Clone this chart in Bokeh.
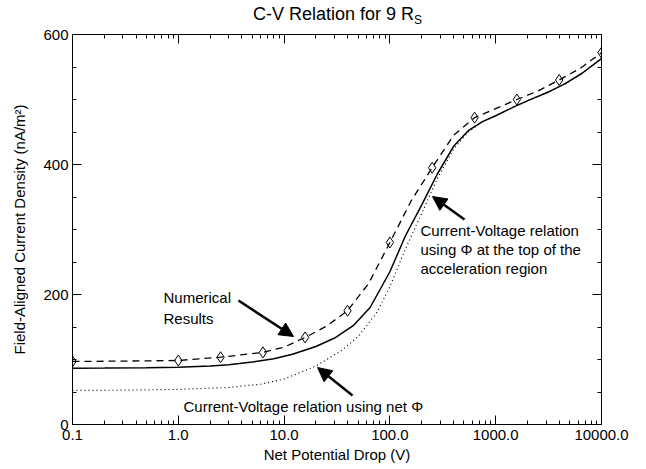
from bokeh.plotting import figure
from bokeh.models import (Range1d, FixedTicker, PrintfTickFormatter, LogAxis, LinearAxis,
                          Label, Arrow, NormalHead, CustomJSTickFormatter, Div)
from bokeh.layouts import column
from bokeh.embed import file_html
from bokeh.resources import INLINE

# ---------------- data ----------------
solid_x = [0.1, 0.2, 0.5, 1, 2, 3, 5, 8, 12, 20, 30, 45, 65, 100, 140, 200, 280, 400,
           550, 750, 1000, 1500, 2200, 3200, 4500, 6500, 10000]
solid_y = [86.5, 86.8, 87.3, 88, 90, 92, 96, 101, 108, 120, 133, 152, 180, 235, 290, 338,
           385, 428, 452, 466, 475, 489, 501, 512, 524, 540, 563]

dash_x = [0.1, 0.3, 1, 2.51, 6.31, 10, 15.8, 25, 39.8, 63, 100, 160, 251, 400, 631, 1000,
          1585, 2500, 3981, 6300, 10000]
dash_y = [97, 97.5, 98.5, 103.5, 111, 119, 134, 151, 175, 217, 280, 345, 395, 445, 472, 486,
          500, 513, 530, 548, 572]

marker_x = [0.1, 1, 2.51, 6.31, 15.8, 39.8, 100, 251, 631, 1585, 3981, 10000]
marker_y = [97, 98.5, 103.5, 111, 134, 175, 280, 395, 472, 500, 530, 572]

dot_x = [0.1, 0.3, 1, 3, 6, 10, 20, 35, 50, 75, 100, 140, 200, 280, 400, 550, 750, 1000,
         1500, 2200, 3200, 4500, 6500, 10000]
dot_y = [52.3, 52.8, 54, 57, 62, 70, 90, 114, 135, 172, 212, 270, 325, 378, 424, 450, 466,
         475, 489, 501, 512, 524, 540, 563]

x_ticks = [0.1, 1, 10, 100, 1000, 10000]
x_minor = [m * d for d in [0.1, 1, 10, 100, 1000] for m in range(2, 10)]
y_ticks = [0, 200, 400, 600]
y_minor = [50, 100, 150, 250, 300, 350, 450, 500, 550]

title_main = "C-V Relation for 9 R"
title_sub = "S"
x_label = "Net Potential Drop (V)"
y_label = "Field-Aligned Current Density (nA/m\u00b2)"
ann_num = ["Numerical", "Results"]
ann_net = "Current-Voltage relation using net \u03a6"
ann_top = ["Current-Voltage relation", "using \u03a6 at the top of the", "acceleration region"]

FONT = "Liberation Sans"
FS = "15px"

# picture-pixel -> data helpers (for annotation placement)
def dx(px):
    return 10 ** (-1 + (px - 72) / 105.8)

def dy(py):
    return (424 - py) / 0.65

W = 640
TH = 26          # title strip height
H = 466 - TH     # figure height
FT = 34 - TH     # frame top inside figure

title_div = Div(
    text=f'{title_main}<sub style="font-size:12px; vertical-align:-4px; line-height:0">{title_sub}</sub>',
    width=W, height=TH, margin=(0, 0, 0, 0),
    styles={"font-family": FONT, "font-size": "18px", "color": "black",
            "padding-left": "253px", "padding-top": "4px", "line-height": "20px",
            "white-space": "nowrap"})

p = figure(width=W, height=H, x_axis_type="log",
           x_range=Range1d(0.1, 10000), y_range=Range1d(0, 600),
           output_backend="svg", toolbar_location=None,
           min_border_left=72, min_border_right=W - 601, min_border_top=FT,
           min_border_bottom=H - (424 - TH))
p.xgrid.visible = False
p.ygrid.visible = False
p.outline_line_color = "black"
p.outline_line_width = 1
p.background_fill_color = "white"
p.border_fill_color = "white"

def style_axis(ax, labels=True):
    ax.axis_line_color = "black"
    ax.axis_line_width = 1
    ax.major_tick_line_color = "black"
    ax.minor_tick_line_color = "black"
    ax.major_tick_in = 9
    ax.major_tick_out = 0
    ax.minor_tick_in = 4
    ax.minor_tick_out = 0
    ax.major_label_text_font = FONT
    ax.major_label_text_color = "black"
    ax.major_label_text_font_size = FS
    ax.axis_label_text_font = FONT
    ax.axis_label_text_font_style = "normal"
    ax.axis_label_text_color = "black"
    ax.axis_label_text_font_size = FS
    if not labels:
        ax.formatter = CustomJSTickFormatter(code="return '';")
        ax.major_label_standoff = 0

xa = p.xaxis[0]
xa.ticker = FixedTicker(ticks=x_ticks, minor_ticks=x_minor)
xa.formatter = PrintfTickFormatter(format="%.1f")
style_axis(xa)
xa.axis_label = x_label
xa.major_label_standoff = 5
xa.axis_label_standoff = 3

ya = p.yaxis[0]
ya.ticker = FixedTicker(ticks=y_ticks, minor_ticks=y_minor)
style_axis(ya)
ya.axis_label = y_label
ya.major_label_standoff = 4
ya.axis_label_standoff = 12

top = LogAxis(ticker=FixedTicker(ticks=x_ticks, minor_ticks=x_minor))
style_axis(top, labels=False)
p.add_layout(top, "above")
right = LinearAxis(ticker=FixedTicker(ticks=y_ticks, minor_ticks=y_minor))
style_axis(right, labels=False)
p.add_layout(right, "right")

# curves
p.line(dot_x, dot_y, line_color="black", line_width=1.2, line_dash="1 3")
p.line(solid_x, solid_y, line_color="black", line_width=1.5)
p.line(dash_x, dash_y, line_color="black", line_width=1.3, line_dash="7 5")
p.scatter(marker_x, marker_y, marker="diamond", size=11, fill_color=None,
          line_color="black", line_width=1)

def lab(px, py, t):
    p.add_layout(Label(x=dx(px), y=dy(py), text=t, text_align="left",
                       text_baseline="middle", text_font=FONT, text_font_size=FS,
                       text_color="black"))

lab(163, 297, ann_num[0])
lab(163, 318, ann_num[1])
lab(183, 406, ann_net)
for i, t in enumerate(ann_top):
    lab(420, 230 + 19 * i, t)

def arrow(x0, y0, x1, y1):
    p.add_layout(Arrow(end=NormalHead(size=14, fill_color="black", line_color="black"),
                       x_start=dx(x0), y_start=dy(y0), x_end=dx(x1), y_end=dy(y1),
                       line_color="black", line_width=2.5))

arrow(238, 300, 293, 336)
arrow(352, 395, 317, 367)
arrow(464, 219, 432, 196)

layout = column(title_div, p, spacing=0)
open("out.html", "w").write(file_html(layout, INLINE))
